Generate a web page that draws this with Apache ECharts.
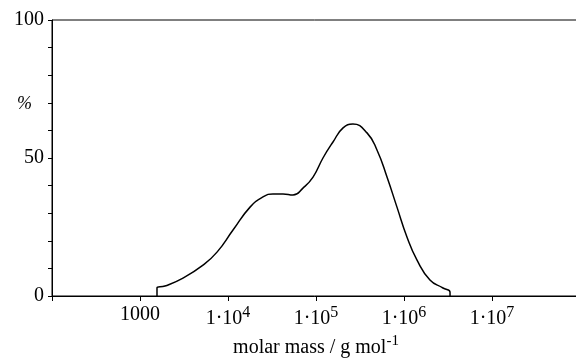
<!DOCTYPE html>
<html>
<head>
<meta charset="utf-8">
<script src="https://cdn.jsdelivr.net/npm/echarts@6/dist/echarts.min.js"></script>
<style>
  html, body { margin: 0; padding: 0; background: #fff; }
  #chart-container { width: 576px; height: 358px; }
</style>
</head>
<body>
<div id="chart-container"></div>
<script>
// molar mass (g/mol) and percent
const masas = [1560, 1560, 1920, 3080, 5200, 7500, 11400, 17800, 25000, 32400, 42200, 54800,
  71100, 92500, 120000, 156000, 203000, 263000, 380000, 493000, 641000, 832000, 1080000, 1406000,
  1972000, 2773000, 3334000, 3334000];
const porcentajes = [0, 2.9, 3.6, 6.5, 11.2, 15.9, 23.9, 32.2, 35.9, 37.0, 37.0, 36.6,
  39.1, 43.1, 50.0, 55.8, 60.9, 62.3, 59.1, 52.9, 43.1, 32.2, 21.4, 13.0,
  5.8, 2.9, 1.4, 0];
const etiquetasY = [0, 50, 100];
const etiquetasX = {
  1000: '1000',
  10000: '{a|1·10}{s|4}',
  100000: '{a|1·10}{s|5}',
  1000000: '{a|1·10}{s|6}',
  10000000: '{a|1·10}{s|7}'
};

let myChart = echarts.init(document.getElementById('chart-container'), null, { renderer: 'canvas' });

const fuente = '"Liberation Serif", "DejaVu Serif", serif';

const opciones = {
  animation: false,
  grid: {
    left: 52, top: 20, width: 528, height: 276,
    outerBoundsMode: 'none', containLabel: false,
    show: true, borderColor: '#000', borderWidth: 1
  },
  graphic: [{
    type: 'text', left: 17, top: 95,
    style: { text: '%', font: 'italic 18px ' + fuente, fill: '#000' }
  }],
  xAxis: {
    type: 'log', logBase: 10, min: 100, max: 100000000,
    name: 'molar mass / g mol{s|-1}',
    nameLocation: 'middle', nameGap: 38,
    nameTextStyle: {
      fontFamily: fuente, fontSize: 20, color: '#000',
      rich: { s: { fontFamily: fuente, fontSize: 15, color: '#000', padding: [0, 0, 12, 0] } }
    },
    axisLine: { lineStyle: { color: '#000', width: 1 } },
    axisTick: { length: 5, lineStyle: { color: '#000' } },
    splitLine: { show: false },
    axisLabel: {
      margin: 9, color: '#000', fontFamily: fuente, fontSize: 20,
      formatter: v => etiquetasX[Math.round(v)] || '',
      rich: {
        a: { fontFamily: fuente, fontSize: 20, color: '#000' },
        s: { fontFamily: fuente, fontSize: 16, color: '#000', padding: [0, 0, 12, 0] }
      }
    }
  },
  yAxis: {
    type: 'value', min: 0, max: 100, interval: 10,
    axisLine: { show: true, lineStyle: { color: '#000', width: 1 } },
    axisTick: { length: 4, lineStyle: { color: '#000' } },
    splitLine: { show: false },
    axisLabel: {
      margin: 8, color: '#000', fontFamily: fuente, fontSize: 20,
      formatter: v => etiquetasY.includes(v) ? String(v) : ''
    }
  },
  series: [{
    type: 'line',
    data: masas.map((m, i) => [m, porcentajes[i]]),
    smooth: 0.5,
    showSymbol: false,
    lineStyle: { color: '#000', width: 1.5 }
  }]
};

myChart.setOption(opciones, true);
window.addEventListener('resize', myChart.resize);
</script>
</body>
</html>
